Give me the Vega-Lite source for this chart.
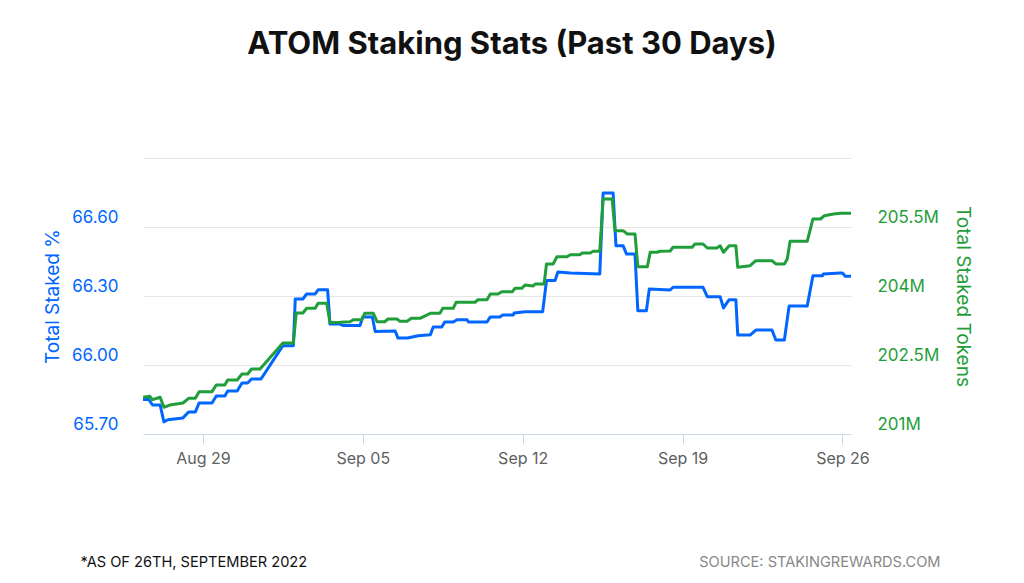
{
  "$schema": "https://vega.github.io/schema/vega-lite/v6.json",
  "autosize": "none",
  "padding": {"left": 143, "top": 158, "right": 173, "bottom": 149},
  "width": 708,
  "height": 276,
  "background": "white",
  "title": {
    "text": "ATOM Staking Stats (Past 30 Days)",
    "font": "Inter",
    "fontSize": 31,
    "fontWeight": "bold",
    "color": "#111111",
    "anchor": "middle",
    "frame": "group",
    "dx": 15,
    "offset": 97
  },
  "datasets": {
    "pct": [
      {"t": "2022-08-26T09:00", "v": 65.85},
      {"t": "2022-08-26T15:00", "v": 65.85},
      {"t": "2022-08-26T19:00", "v": 65.826},
      {"t": "2022-08-27T03:00", "v": 65.826},
      {"t": "2022-08-27T07:00", "v": 65.753},
      {"t": "2022-08-27T11:00", "v": 65.762},
      {"t": "2022-08-28T03:00", "v": 65.770},
      {"t": "2022-08-28T09:00", "v": 65.796},
      {"t": "2022-08-28T16:00", "v": 65.796},
      {"t": "2022-08-28T20:00", "v": 65.835},
      {"t": "2022-08-29T09:30", "v": 65.835},
      {"t": "2022-08-29T14:00", "v": 65.865},
      {"t": "2022-08-29T23:00", "v": 65.865},
      {"t": "2022-08-30T02:00", "v": 65.887},
      {"t": "2022-08-30T12:00", "v": 65.887},
      {"t": "2022-08-30T17:00", "v": 65.922},
      {"t": "2022-08-30T23:00", "v": 65.922},
      {"t": "2022-08-31T03:00", "v": 65.939},
      {"t": "2022-08-31T13:00", "v": 65.939},
      {"t": "2022-09-01T12:00", "v": 66.084},
      {"t": "2022-09-01T23:00", "v": 66.084},
      {"t": "2022-09-02T01:00", "v": 66.287},
      {"t": "2022-09-02T09:00", "v": 66.287},
      {"t": "2022-09-02T13:00", "v": 66.309},
      {"t": "2022-09-02T22:00", "v": 66.309},
      {"t": "2022-09-03T01:00", "v": 66.327},
      {"t": "2022-09-03T11:00", "v": 66.327},
      {"t": "2022-09-03T13:30", "v": 66.178},
      {"t": "2022-09-04T00:00", "v": 66.178},
      {"t": "2022-09-04T03:00", "v": 66.172},
      {"t": "2022-09-04T21:00", "v": 66.172},
      {"t": "2022-09-05T00:00", "v": 66.209},
      {"t": "2022-09-05T10:00", "v": 66.209},
      {"t": "2022-09-05T13:00", "v": 66.146},
      {"t": "2022-09-06T10:00", "v": 66.148},
      {"t": "2022-09-06T13:00", "v": 66.117},
      {"t": "2022-09-06T23:00", "v": 66.117},
      {"t": "2022-09-07T10:00", "v": 66.127},
      {"t": "2022-09-07T23:00", "v": 66.132},
      {"t": "2022-09-08T02:00", "v": 66.165},
      {"t": "2022-09-08T11:00", "v": 66.165},
      {"t": "2022-09-08T14:00", "v": 66.187},
      {"t": "2022-09-08T23:00", "v": 66.187},
      {"t": "2022-09-09T03:00", "v": 66.197},
      {"t": "2022-09-09T13:30", "v": 66.197},
      {"t": "2022-09-09T15:00", "v": 66.187},
      {"t": "2022-09-10T10:30", "v": 66.187},
      {"t": "2022-09-10T14:00", "v": 66.209},
      {"t": "2022-09-11T00:00", "v": 66.209},
      {"t": "2022-09-11T03:00", "v": 66.217},
      {"t": "2022-09-11T14:00", "v": 66.217},
      {"t": "2022-09-11T15:00", "v": 66.226},
      {"t": "2022-09-12T02:30", "v": 66.232},
      {"t": "2022-09-12T21:00", "v": 66.232},
      {"t": "2022-09-13T01:00", "v": 66.367},
      {"t": "2022-09-13T10:00", "v": 66.367},
      {"t": "2022-09-13T13:00", "v": 66.404},
      {"t": "2022-09-14T02:00", "v": 66.400},
      {"t": "2022-09-15T09:00", "v": 66.396},
      {"t": "2022-09-15T12:30", "v": 66.748},
      {"t": "2022-09-15T23:00", "v": 66.748},
      {"t": "2022-09-16T02:00", "v": 66.519},
      {"t": "2022-09-16T09:30", "v": 66.519},
      {"t": "2022-09-16T13:00", "v": 66.483},
      {"t": "2022-09-16T22:00", "v": 66.483},
      {"t": "2022-09-17T01:00", "v": 66.236},
      {"t": "2022-09-17T10:00", "v": 66.236},
      {"t": "2022-09-17T13:00", "v": 66.330},
      {"t": "2022-09-18T11:00", "v": 66.326},
      {"t": "2022-09-18T14:00", "v": 66.338},
      {"t": "2022-09-19T21:30", "v": 66.338},
      {"t": "2022-09-20T02:00", "v": 66.297},
      {"t": "2022-09-20T15:30", "v": 66.297},
      {"t": "2022-09-20T19:00", "v": 66.248},
      {"t": "2022-09-21T01:00", "v": 66.284},
      {"t": "2022-09-21T08:00", "v": 66.284},
      {"t": "2022-09-21T10:00", "v": 66.130},
      {"t": "2022-09-21T23:00", "v": 66.130},
      {"t": "2022-09-22T05:00", "v": 66.152},
      {"t": "2022-09-22T22:00", "v": 66.152},
      {"t": "2022-09-23T02:00", "v": 66.109},
      {"t": "2022-09-23T11:00", "v": 66.109},
      {"t": "2022-09-23T16:00", "v": 66.257},
      {"t": "2022-09-24T11:00", "v": 66.257},
      {"t": "2022-09-24T17:00", "v": 66.388},
      {"t": "2022-09-25T03:00", "v": 66.388},
      {"t": "2022-09-25T04:00", "v": 66.396},
      {"t": "2022-09-25T22:00", "v": 66.400},
      {"t": "2022-09-26T00:00", "v": 66.400},
      {"t": "2022-09-26T03:00", "v": 66.386},
      {"t": "2022-09-26T09:00", "v": 66.386}
    ],
    "tokens": [
      {"t": "2022-08-26T09:00", "v": 201798000},
      {"t": "2022-08-26T16:00", "v": 201820000},
      {"t": "2022-08-26T19:00", "v": 201746000},
      {"t": "2022-08-27T03:00", "v": 201798000},
      {"t": "2022-08-27T07:00", "v": 201580000},
      {"t": "2022-08-27T13:00", "v": 201630000},
      {"t": "2022-08-28T03:00", "v": 201674000},
      {"t": "2022-08-28T09:00", "v": 201776000},
      {"t": "2022-08-28T16:00", "v": 201776000},
      {"t": "2022-08-28T20:00", "v": 201920000},
      {"t": "2022-08-29T09:30", "v": 201920000},
      {"t": "2022-08-29T14:00", "v": 202065000},
      {"t": "2022-08-29T23:00", "v": 202065000},
      {"t": "2022-08-30T02:00", "v": 202174000},
      {"t": "2022-08-30T12:00", "v": 202174000},
      {"t": "2022-08-30T17:00", "v": 202304000},
      {"t": "2022-08-30T23:00", "v": 202304000},
      {"t": "2022-08-31T03:00", "v": 202413000},
      {"t": "2022-08-31T12:00", "v": 202413000},
      {"t": "2022-09-01T12:00", "v": 202978000},
      {"t": "2022-09-01T23:00", "v": 202978000},
      {"t": "2022-09-02T02:00", "v": 203630000},
      {"t": "2022-09-02T09:00", "v": 203630000},
      {"t": "2022-09-02T13:00", "v": 203733000},
      {"t": "2022-09-02T22:00", "v": 203733000},
      {"t": "2022-09-03T01:00", "v": 203841000},
      {"t": "2022-09-03T10:00", "v": 203841000},
      {"t": "2022-09-03T13:30", "v": 203424000},
      {"t": "2022-09-04T00:00", "v": 203428000},
      {"t": "2022-09-04T10:30", "v": 203441000},
      {"t": "2022-09-04T14:00", "v": 203485000},
      {"t": "2022-09-04T23:00", "v": 203485000},
      {"t": "2022-09-05T02:00", "v": 203624000},
      {"t": "2022-09-05T11:00", "v": 203624000},
      {"t": "2022-09-05T15:00", "v": 203441000},
      {"t": "2022-09-05T23:00", "v": 203441000},
      {"t": "2022-09-06T02:30", "v": 203500000},
      {"t": "2022-09-06T12:00", "v": 203500000},
      {"t": "2022-09-06T15:00", "v": 203450000},
      {"t": "2022-09-06T22:30", "v": 203450000},
      {"t": "2022-09-07T03:00", "v": 203515000},
      {"t": "2022-09-07T12:00", "v": 203515000},
      {"t": "2022-09-07T23:00", "v": 203624000},
      {"t": "2022-09-08T09:00", "v": 203624000},
      {"t": "2022-09-08T12:00", "v": 203733000},
      {"t": "2022-09-08T23:00", "v": 203733000},
      {"t": "2022-09-09T02:00", "v": 203863000},
      {"t": "2022-09-09T22:00", "v": 203863000},
      {"t": "2022-09-10T01:00", "v": 203920000},
      {"t": "2022-09-10T10:30", "v": 203920000},
      {"t": "2022-09-10T14:00", "v": 204043000},
      {"t": "2022-09-10T22:00", "v": 204043000},
      {"t": "2022-09-11T02:00", "v": 204093000},
      {"t": "2022-09-11T13:00", "v": 204093000},
      {"t": "2022-09-11T16:00", "v": 204167000},
      {"t": "2022-09-11T23:00", "v": 204167000},
      {"t": "2022-09-12T02:30", "v": 204239000},
      {"t": "2022-09-12T11:00", "v": 204217000},
      {"t": "2022-09-12T13:00", "v": 204261000},
      {"t": "2022-09-12T22:30", "v": 204261000},
      {"t": "2022-09-13T01:00", "v": 204696000},
      {"t": "2022-09-13T08:00", "v": 204696000},
      {"t": "2022-09-13T12:00", "v": 204854000},
      {"t": "2022-09-13T22:30", "v": 204854000},
      {"t": "2022-09-14T02:00", "v": 204898000},
      {"t": "2022-09-14T12:00", "v": 204898000},
      {"t": "2022-09-14T14:30", "v": 204935000},
      {"t": "2022-09-14T23:00", "v": 204935000},
      {"t": "2022-09-15T02:00", "v": 204972000},
      {"t": "2022-09-15T09:00", "v": 204972000},
      {"t": "2022-09-15T12:30", "v": 206109000},
      {"t": "2022-09-15T22:00", "v": 206109000},
      {"t": "2022-09-16T01:00", "v": 205420000},
      {"t": "2022-09-16T09:30", "v": 205420000},
      {"t": "2022-09-16T14:00", "v": 205348000},
      {"t": "2022-09-16T22:00", "v": 205348000},
      {"t": "2022-09-17T01:00", "v": 204637000},
      {"t": "2022-09-17T11:00", "v": 204637000},
      {"t": "2022-09-17T14:00", "v": 204950000},
      {"t": "2022-09-17T21:00", "v": 204950000},
      {"t": "2022-09-18T00:30", "v": 204972000},
      {"t": "2022-09-18T11:00", "v": 204978000},
      {"t": "2022-09-18T14:00", "v": 205059000},
      {"t": "2022-09-19T10:00", "v": 205059000},
      {"t": "2022-09-19T13:00", "v": 205130000},
      {"t": "2022-09-19T21:30", "v": 205130000},
      {"t": "2022-09-20T02:00", "v": 205043000},
      {"t": "2022-09-20T12:00", "v": 205043000},
      {"t": "2022-09-20T15:30", "v": 205093000},
      {"t": "2022-09-20T19:00", "v": 204950000},
      {"t": "2022-09-21T01:00", "v": 205093000},
      {"t": "2022-09-21T08:00", "v": 205093000},
      {"t": "2022-09-21T10:00", "v": 204624000},
      {"t": "2022-09-21T23:00", "v": 204659000},
      {"t": "2022-09-22T05:00", "v": 204767000},
      {"t": "2022-09-22T22:00", "v": 204767000},
      {"t": "2022-09-23T02:00", "v": 204696000},
      {"t": "2022-09-23T11:00", "v": 204696000},
      {"t": "2022-09-23T14:00", "v": 204804000},
      {"t": "2022-09-23T17:00", "v": 205189000},
      {"t": "2022-09-24T11:00", "v": 205189000},
      {"t": "2022-09-24T17:00", "v": 205674000},
      {"t": "2022-09-25T01:00", "v": 205674000},
      {"t": "2022-09-25T05:00", "v": 205746000},
      {"t": "2022-09-25T14:30", "v": 205783000},
      {"t": "2022-09-25T22:00", "v": 205798000},
      {"t": "2022-09-26T09:00", "v": 205798000}
    ]
  },
  "layer": [
    {
      "data": {"name": "pct"},
      "mark": {"type": "line", "color": "#0066ff", "strokeWidth": 3, "strokeJoin": "round", "clip": true},
      "encoding": {
        "x": {
          "field": "t",
          "type": "temporal",
          "scale": {
            "domain": [
              {"year": 2022, "month": 8, "date": 26, "hours": 9},
              {"year": 2022, "month": 9, "date": 26, "hours": 9}
            ]
          },
          "axis": {
            "orient": "bottom",
            "values": [
              {"year": 2022, "month": 8, "date": 29},
              {"year": 2022, "month": 9, "date": 5},
              {"year": 2022, "month": 9, "date": 12},
              {"year": 2022, "month": 9, "date": 19},
              {"year": 2022, "month": 9, "date": 26}
            ],
            "format": "%b %d",
            "grid": false,
            "domainColor": "#ccd6eb",
            "tickColor": "#ccd6eb",
            "tickSize": 10,
            "labelFont": "Inter",
            "labelFontSize": 16,
            "labelColor": "#606060",
            "labelPadding": 6,
            "title": "*AS OF 26TH, SEPTEMBER 2022",
            "titleFont": "Inter",
            "titleFontSize": 14.6,
            "titleFontWeight": "normal",
            "titleColor": "#111111",
            "titleAlign": "left",
            "titleBaseline": "alphabetic",
            "titleX": -63,
            "titleY": 132
          }
        },
        "y": {
          "field": "v",
          "type": "quantitative",
          "scale": {"domain": [65.7, 66.9], "zero": false, "nice": false},
          "axis": {
            "orient": "left",
            "values": [65.7, 66.0, 66.3, 66.6, 66.9],
            "labelExpr": "datum.value > 66.8 ? '' : format(datum.value, '.2f')",
            "grid": true,
            "gridColor": "#e6e6e6",
            "domain": false,
            "ticks": false,
            "labelFont": "Inter",
            "labelFontSize": 17,
            "labelColor": "#0066ff",
            "labelPadding": 25,
            "labelOffset": -10,
            "title": "Total Staked %",
            "titleFont": "Inter",
            "titleFontSize": 19,
            "titleFontWeight": "normal",
            "titleColor": "#0066ff",
            "titlePadding": 9
          }
        }
      }
    },
    {
      "data": {"name": "tokens"},
      "mark": {"type": "line", "color": "#1f9e3a", "strokeWidth": 3, "strokeJoin": "round", "clip": true},
      "encoding": {
        "x": {
          "field": "t",
          "type": "temporal",
          "axis": {
            "orient": "bottom",
            "labels": false,
            "ticks": false,
            "domain": false,
            "grid": false,
            "title": "SOURCE: STAKINGREWARDS.COM",
            "titleFont": "Inter",
            "titleFontSize": 14.6,
            "titleFontWeight": "normal",
            "titleColor": "#888888",
            "titleAlign": "right",
            "titleBaseline": "alphabetic",
            "titleX": 797,
            "titleY": 132
          }
        },
        "y": {
          "field": "v",
          "type": "quantitative",
          "scale": {"domain": [201000000, 207000000], "zero": false, "nice": false},
          "axis": {
            "orient": "right",
            "values": [201000000, 202500000, 204000000, 205500000, 207000000],
            "labelExpr": "datum.value > 206900000 ? '' : format(datum.value, '~s')",
            "grid": false,
            "domain": false,
            "ticks": false,
            "labelFont": "Inter",
            "labelFontSize": 17,
            "labelColor": "#1f9e3a",
            "labelPadding": 26,
            "labelOffset": -10,
            "title": "Total Staked Tokens",
            "titleFont": "Inter",
            "titleFontSize": 19,
            "titleFontWeight": "normal",
            "titleColor": "#1f9e3a",
            "titlePadding": 14
          }
        }
      }
    }
  ],
  "resolve": {"scale": {"y": "independent"}, "axis": {"x": "independent"}},
  "config": {"view": {"stroke": null}}
}
